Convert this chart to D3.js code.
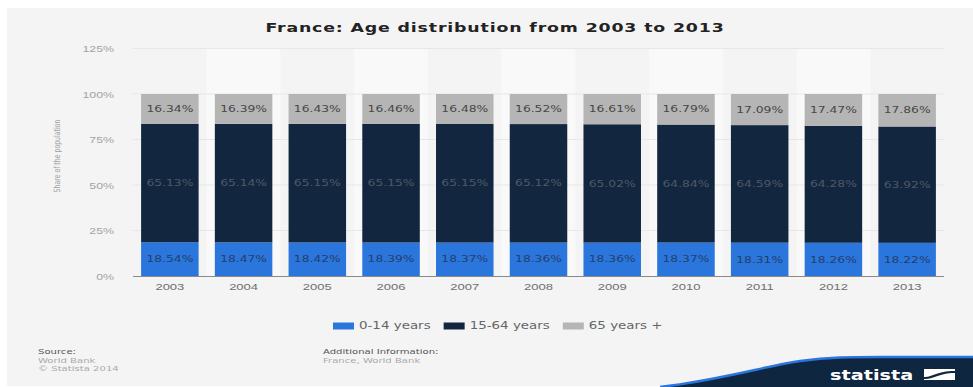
<!DOCTYPE html>
<html>
<head>
<meta charset="utf-8">
<script src="https://cdn.jsdelivr.net/npm/d3@7"></script>
<style>
  html, body { margin: 0; padding: 0; background: #fff; }
  svg { display: block; font-family: "DejaVu Sans", Verdana, sans-serif; }
</style>
</head>
<body>
<svg id="chart" width="973" height="387"></svg>
<script>
// ---- data ----
const years = ["2003", "2004", "2005", "2006", "2007", "2008", "2009", "2010", "2011", "2012", "2013"];
const age0to14 = [18.54, 18.47, 18.42, 18.39, 18.37, 18.36, 18.36, 18.37, 18.31, 18.26, 18.22];
const age15to64 = [65.13, 65.14, 65.15, 65.15, 65.15, 65.12, 65.02, 64.84, 64.59, 64.28, 63.92];
const age65plus = [16.34, 16.39, 16.43, 16.46, 16.48, 16.52, 16.61, 16.79, 17.09, 17.47, 17.86];
const seriesNames = ["0-14 years", "15-64 years", "65 years +"];
const yTicks = [0, 25, 50, 75, 100, 125];

const title = "France: Age distribution from 2003 to 2013";
const yTitle = "Share of the population";
const sourceLines = ["Source:", "World Bank", "\u00A9 Statista 2014"];
const infoLines = ["Additional Information:", "France, World Bank"];

// ---- layout & style ----
const W = 973, H = 387;
const S = 1.4; // horizontal text stretch
const plot = { left: 133, right: 944, top: 48.5, bottom: 276 };
const colors = ["#2a76dd", "#12263f", "#b5b5b5"];
const labelColors = ["#24406b", "#4e5866", "#474747"];

const svg = d3.select("#chart");

// stretched text helper
function stext(parent, str, x, y, opts = {}) {
  const t = parent.append("text")
    .attr("transform", `translate(${x},${y}) scale(${S},1)` + (opts.rotate ? ` rotate(${opts.rotate})` : ""))
    .attr("text-anchor", opts.anchor || "start")
    .attr("font-size", opts.size || 10)
    .attr("font-weight", opts.weight || "normal")
    .attr("fill", opts.fill || "#666")
    .text(str);
  if (opts.dy) t.attr("dy", opts.dy);
  if (opts.spacing) t.attr("letter-spacing", opts.spacing);
  return t;
}

// background panel
svg.append("rect").attr("x", 0).attr("y", 0).attr("width", W).attr("height", H).attr("fill", "#fff");
svg.append("rect").attr("x", 7).attr("y", 8).attr("width", W - 7).attr("height", H - 9).attr("fill", "#f4f4f4");

// scales
const x = d3.scaleBand().domain(years).range([plot.left, plot.right]).paddingInner(0.22).paddingOuter(0.11);
const xFull = d3.scaleBand().domain(years).range([plot.left, plot.right]);
const y = d3.scaleLinear().domain([0, 125]).range([plot.bottom, plot.top]);

// alternating column bands
svg.append("g").selectAll("rect")
  .data(years.filter((d, i) => i % 2 === 1))
  .join("rect")
  .attr("x", d => xFull(d))
  .attr("y", plot.top)
  .attr("width", xFull.bandwidth())
  .attr("height", plot.bottom - plot.top)
  .attr("fill", "#f9f9f9");

// gridlines
svg.append("g").selectAll("line")
  .data(yTicks.filter(t => t > 0))
  .join("line")
  .attr("x1", plot.left).attr("x2", plot.right)
  .attr("y1", d => y(d)).attr("y2", d => y(d))
  .attr("stroke", "#e7e7e7").attr("stroke-width", 1);

// stacked data
const rows = years.map((yr, i) => ({ year: yr, s0: age0to14[i], s1: age15to64[i], s2: age65plus[i] }));
const stack = d3.stack().keys(["s0", "s1", "s2"]);
const layers = stack(rows);

const barG = svg.append("g");
layers.forEach((layer, li) => {
  barG.append("g").selectAll("rect")
    .data(layer)
    .join("rect")
    .attr("x", d => x(d.data.year))
    .attr("y", d => y(d[1]))
    .attr("width", x.bandwidth())
    .attr("height", d => y(d[0]) - y(d[1]))
    .attr("fill", colors[li]);
});

// value labels
const labG = svg.append("g");
layers.forEach((layer, li) => {
  layer.forEach(d => {
    const v = d[1] - d[0];
    stext(labG, v.toFixed(2) + "%", x(d.data.year) + x.bandwidth() / 2, (y(d[0]) + y(d[1])) / 2,
      { anchor: "middle", size: 8.8, fill: labelColors[li], dy: "0.36em" });
  });
});

// x axis
const xAxis = svg.append("g")
  .attr("transform", `translate(0,${plot.bottom})`)
  .call(d3.axisBottom(x).tickSize(0).tickPadding(0));
xAxis.select(".domain").attr("stroke", "#8a8a8a").attr("stroke-width", 1.2)
  .attr("d", `M${plot.left},0.5H${plot.right}`);
xAxis.selectAll(".tick text").remove();
xAxis.selectAll(".tick").each(function (d) {
  stext(d3.select(this), d, 0, 14, { anchor: "middle", size: 9.3, fill: "#6f6f6f" });
});

// y axis
const yAxis = svg.append("g")
  .attr("transform", `translate(${plot.left},0)`)
  .call(d3.axisLeft(y).tickValues(yTicks).tickFormat(d => d + "%").tickSize(0));
yAxis.select(".domain").remove();
yAxis.selectAll(".tick text").remove();
yAxis.selectAll(".tick").each(function (d) {
  stext(d3.select(this), d + "%", -19, 0, { anchor: "end", size: 8.8, fill: "#a3a3a3", dy: "0.35em" });
});

// y axis title
stext(svg, yTitle, 57, 156, { anchor: "middle", size: 6.2, fill: "#a0a0a0", rotate: -90, dy: "0.35em" });

// title
stext(svg, title, 495, 32, { anchor: "middle", size: 12.4, weight: "bold", fill: "#222", spacing: 0.6 });

// legend
const legend = svg.append("g");
let lx = 333;
const ly = 326;
seriesNames.forEach((name, i) => {
  legend.append("rect").attr("x", lx).attr("y", ly - 3.5).attr("width", 21).attr("height", 7).attr("fill", colors[i]);
  const t = stext(legend, name, lx + 26, ly, { size: 9.6, fill: "#666", dy: "0.35em" });
  lx += 26 + t.node().getComputedTextLength() * S + 13;
});

// source & info
sourceLines.forEach((s, i) => {
  stext(svg, s, 38, 354 + i * 8.7, { size: 7.2, fill: i === 0 ? "#555" : "#aaa" });
});
infoLines.forEach((s, i) => {
  stext(svg, s, 323, 354 + i * 8.7, { size: 7.2, fill: i === 0 ? "#555" : "#aaa" });
});

// brand footer
const logo = svg.append("g");
const curve = "M660,387 C720,380 770,365 800,361 C830,357 850,357 880,357 L973,357";
logo.append("path").attr("d", curve + " L973,387 Z").attr("fill", "#0f2640");
logo.append("path").attr("d", curve).attr("fill", "none").attr("stroke", "#2a76dd").attr("stroke-width", 2.5);
stext(logo, "statista", 830, 379.5, { size: 13.8, weight: "bold", fill: "#fff" });
logo.append("rect").attr("x", 924).attr("y", 369).attr("width", 31).attr("height", 11).attr("fill", "#fff");
logo.append("path")
  .attr("d", "M924,377 C934,377 936,371 955,371 L955,373 C938,373 936,379 924,379 Z")
  .attr("fill", "#0f2640");
</script>
</body>
</html>
